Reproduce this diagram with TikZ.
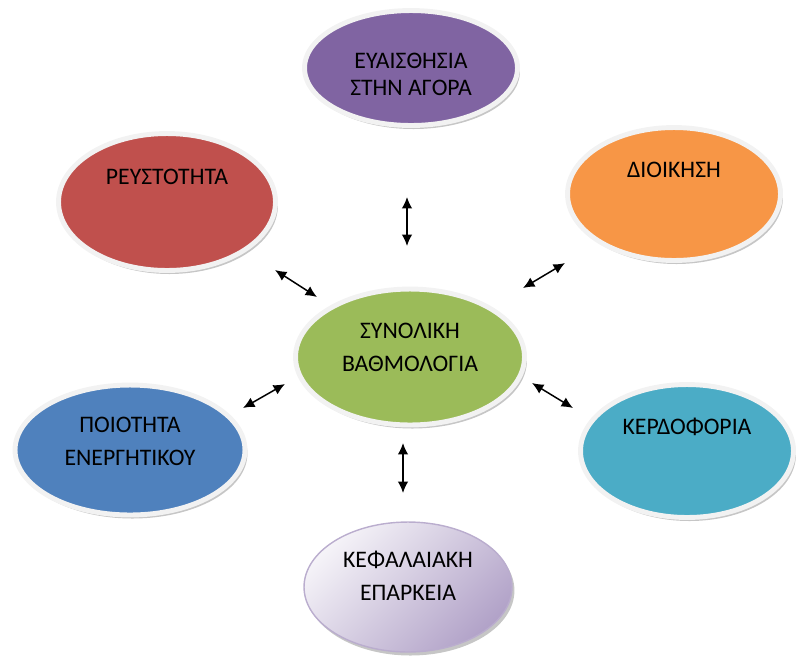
\documentclass[tikz,border=0pt]{standalone}
\usepackage{fontspec}
\setmainfont{Carlito}
\usepackage{xcolor}
\usepackage{tikz}
\usetikzlibrary{arrows.meta,shapes.geometric,shadows}
\definecolor{grtpurple}{HTML}{8064A2}
\definecolor{grtred}{HTML}{C0504D}
\definecolor{grtorange}{HTML}{F79646}
\definecolor{grtgreen}{HTML}{9BBB59}
\definecolor{grtblue}{HTML}{4F81BD}
\definecolor{grtteal}{HTML}{4BACC6}
\definecolor{grtlilac}{HTML}{A998C2}
\newcommand{\grtlift}[2]{\raisebox{#1}[0pt][0pt]{\begin{tabular}{@{}c@{}}#2\end{tabular}}}

\begin{document}
\begin{tikzpicture}[
    x=0.02cm, y=-0.02cm,
    oval/.style={
        ellipse, draw=gray!10, line width=2.8pt, inner sep=0,
        font=\fontsize{13.5}{18.7}\selectfont, text=black,
        drop shadow={shadow xshift=1.4pt, shadow yshift=-2pt, opacity=0.45}},
    link/.style={{Latex[length=6.5pt,width=6pt]}-{Latex[length=6.5pt,width=6pt]}, line width=0.85pt}]
\useasboundingbox (0,0) rectangle (797,657);

\node[oval, fill=grtpurple, minimum width=4.26cm, minimum height=2.30cm] (market) at (411,68)
    {\grtlift{-7.9pt}{ΕΥΑΙΣΘΗΣΙΑ\\[-3.4pt]ΣΤΗΝ ΑΓΟΡΑ}};
\node[oval, fill=grtred, minimum width=4.34cm, minimum height=2.74cm] (liquid) at (167,202)
    {\grtlift{10.3pt}{ΡΕΥΣΤΟΤΗΤΑ}};
\node[oval, fill=grtorange, minimum width=4.26cm, minimum height=2.66cm] (admin) at (674,194)
    {\grtlift{9.7pt}{ΔΙΟΙΚΗΣΗ}};
\node[oval, fill=grtgreen, minimum width=4.58cm, minimum height=2.72cm] (total) at (410,357)
    {\grtlift{1.2pt}{ΣΥΝΟΛΙΚΗ\\ΒΑΘΜΟΛΟΓΙΑ}};
\node[oval, fill=grtblue, minimum width=4.60cm, minimum height=2.60cm] (assets) at (130,450)
    {\grtlift{0.6pt}{ΠΟΙΟΤΗΤΑ\\ΕΝΕΡΓΗΤΙΚΟΥ}};
\node[oval, fill=grtteal, minimum width=4.26cm, minimum height=2.66cm] (profit) at (687,451)
    {\grtlift{9.7pt}{ΚΕΡΔΟΦΟΡΙΑ}};
\node[oval, draw=grtlilac!80, line width=0.8pt, top color=grtlilac!12, bottom color=grtlilac!90,
    shading angle=45, minimum width=4.16cm, minimum height=2.60cm] (capital) at (408,587)
    {\grtlift{2.1pt}{ΚΕΦΑΛΑΙΑΚΗ\\ΕΠΑΡΚΕΙΑ}};

% arrow ends
\coordinate (top1) at (407,197);  \coordinate (top2) at (407,246);
\coordinate (ul1) at (275,270);   \coordinate (ul2) at (317,297);
\coordinate (ur1) at (565,263);   \coordinate (ur2) at (523,288);
\coordinate (ll1) at (285,384);   \coordinate (ll2) at (243,408);
\coordinate (lr1) at (532,383);   \coordinate (lr2) at (573,408);
\coordinate (bot1) at (403,443);  \coordinate (bot2) at (403,493);

\draw[link] (top1) -- (top2);
\draw[link] (ul1) -- (ul2);
\draw[link] (ur1) -- (ur2);
\draw[link] (ll1) -- (ll2);
\draw[link] (lr1) -- (lr2);
\draw[link] (bot1) -- (bot2);

\end{tikzpicture}
\end{document}
